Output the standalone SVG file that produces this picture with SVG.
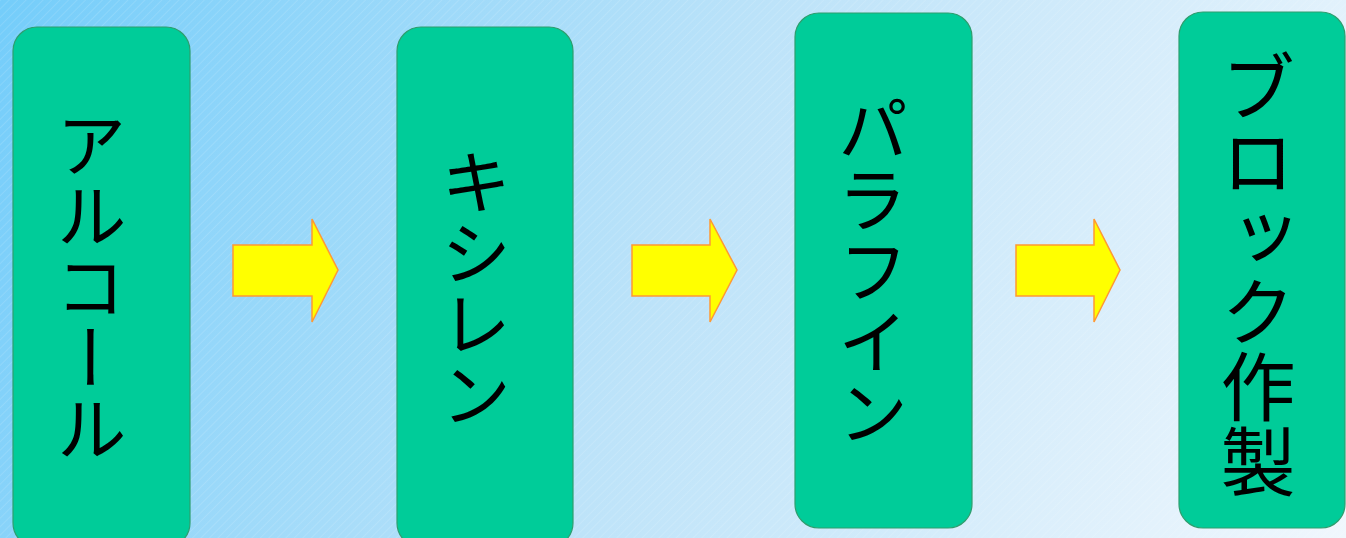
<svg xmlns="http://www.w3.org/2000/svg" width="1346" height="538" viewBox="0 0 1346 538">
  <defs>
    <linearGradient id="bg" x1="0" y1="0" x2="1346" y2="538" gradientUnits="userSpaceOnUse">
      <stop offset="0" stop-color="#74cdfa"/>
      <stop offset="0.5" stop-color="#bde3f9"/>
      <stop offset="1" stop-color="#f0f7fd"/>
    </linearGradient>
    <pattern id="stripes" width="6" height="6" patternUnits="userSpaceOnUse" patternTransform="rotate(-45)">
      <rect width="6" height="1" fill="#ffffff" opacity="0.12"/>
    </pattern>
  </defs>
  <style>
    .box { fill: #00cc99; stroke: #2e9e6e; stroke-width: 1.2; }
    .arrow { fill: #ffff00; stroke: #ff9933; stroke-width: 1.5; stroke-linejoin: miter; }
    .label { font-family: "Noto Sans CJK JP", "Noto Sans CJK SC", sans-serif; font-size: 71px; fill: #000000; writing-mode: vertical-rl; text-anchor: middle; dominant-baseline: central; }
    .big { font-size: 75px; }
  </style>
  <rect width="1346" height="538" fill="url(#bg)"/>
  <rect width="1346" height="538" fill="url(#stripes)"/>

  <g id="node-alcohol">
    <rect class="box" x="13" y="27" width="177" height="520" rx="24" ry="24"/>
    <text class="label" x="91" y="286">アルコール</text>
  </g>
  <g id="node-xylene">
    <rect class="box" x="397" y="27" width="176" height="520" rx="24" ry="24"/>
    <text class="label" x="476" y="288">キシレン</text>
  </g>
  <g id="node-paraffin">
    <rect class="box" x="795" y="13" width="177" height="515" rx="24" ry="24"/>
    <text class="label" x="873" y="270">パラフイン</text>
  </g>
  <g id="node-block">
    <rect class="box" x="1179" y="12" width="166" height="516" rx="24" ry="24"/>
    <text class="label big" x="1258" y="274">ブロック作製</text>
  </g>

  <g id="connectors">
    <polygon class="arrow" points="233,245 312,245 312,219 338,270 312,322 312,296 233,296"/>
    <polygon class="arrow" points="632,245 710,245 710,219 737,270 710,322 710,296 632,296"/>
    <polygon class="arrow" points="1016,245 1094,245 1094,219 1120,270 1094,322 1094,296 1016,296"/>
  </g>
</svg>
